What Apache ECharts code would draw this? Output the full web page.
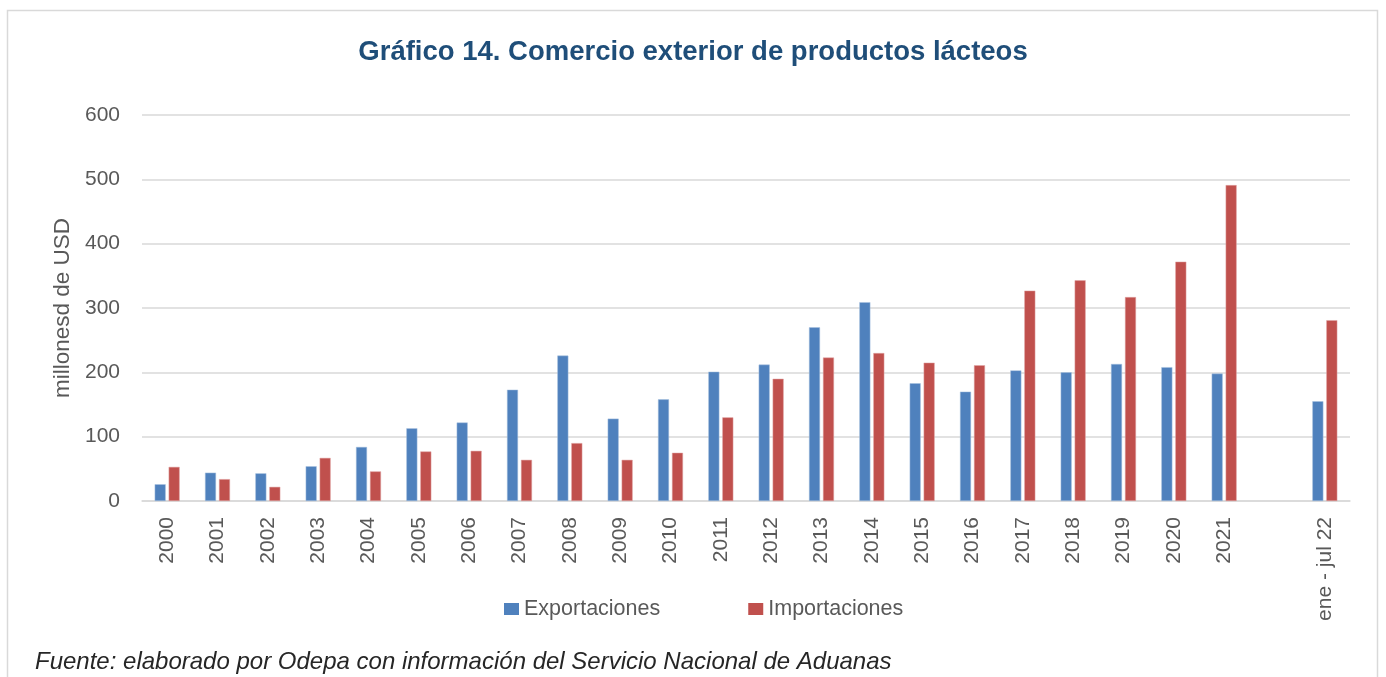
<!DOCTYPE html>
<html>
<head>
<meta charset="utf-8">
<script src="https://cdn.jsdelivr.net/npm/echarts@6/dist/echarts.min.js"></script>
<style>
html,body{margin:0;padding:0;background:#fff;}
#chart{width:1386px;height:677px;}
</style>
</head>
<body>
<div id="chart"></div>
<script>
var categories = ['2000','2001','2002','2003','2004','2005','2006','2007','2008','2009','2010','2011','2012','2013','2014','2015','2016','2017','2018','2019','2020','2021','','ene - jul 22'];
var exportaciones = [26,44,43,54,84,113,122,173,226,128,158,201,212,270,309,183,170,203,200,213,208,198,null,155];
var importaciones = [53,34,22,67,46,77,78,64,90,64,75,130,190,223,230,215,211,327,343,317,372,491,null,281];
var yTicks = [0,100,200,300,400,500,600];

var FONT = 'Liberation Sans';
var chart = echarts.init(document.getElementById('chart'), null, {renderer:'canvas'});
chart.setOption({
  animation:false,
  backgroundColor:'#ffffff',
  title:{
    text:'Gráfico 14. Comercio exterior de productos lácteos',
    left:'center', top:33,
    textStyle:{fontFamily:FONT, fontSize:27.5, fontWeight:'bold', color:'#1F4E79'}
  },
  legend:{
    left:504, top:598, padding:0,
    itemWidth:15, itemHeight:12, itemGap:88,
    icon:'rect',
    itemStyle:{borderWidth:0},
    textStyle:{fontFamily:FONT, fontSize:21.5, color:'#595959'},
    data:['Exportaciones','Importaciones']
  },
  grid:{left:142, right:36, top:115, bottom:176, containLabel:false},
  xAxis:{
    type:'category',
    data:categories,
    axisLine:{lineStyle:{color:'#D9D9D9', width:1.5}},
    axisTick:{show:false},
    axisLabel:{rotate:90, margin:16, interval:0, fontFamily:FONT, fontSize:21, color:'#595959'}
  },
  yAxis:{
    type:'value',
    min:yTicks[0], max:yTicks[yTicks.length-1], interval:100,
    name:'millonesd de USD',
    nameLocation:'middle', nameGap:68,
    nameTextStyle:{fontFamily:FONT, fontSize:22.5, color:'#595959'},
    axisLine:{show:false}, axisTick:{show:false},
    axisLabel:{margin:22, fontFamily:FONT, fontSize:21, color:'#595959'},
    splitLine:{lineStyle:{color:'#D9D9D9', width:1.5}}
  },
  series:[
    {name:'Exportaciones', type:'bar', data:exportaciones, barWidth:11, barGap:'27%',
     itemStyle:{color:'#4F81BD', borderColor:'#A7C0DE', borderWidth:0.5}},
    {name:'Importaciones', type:'bar', data:importaciones, barWidth:11, barGap:'27%',
     itemStyle:{color:'#C0504D', borderColor:'#E0A7A6', borderWidth:0.5}}
  ],
  graphic:[
    {type:'rect', shape:{x:7.5, y:10.5, width:1370, height:700},
     style:{fill:'none', stroke:'#D9D9D9', lineWidth:1.5}, silent:true},
    {type:'text', left:35, top:650,
     style:{text:'Fuente: elaborado por Odepa con información del Servicio Nacional de Aduanas',
            font:'italic 24px "Liberation Sans"', fill:'#262626'}}
  ]
});
</script>
</body>
</html>
